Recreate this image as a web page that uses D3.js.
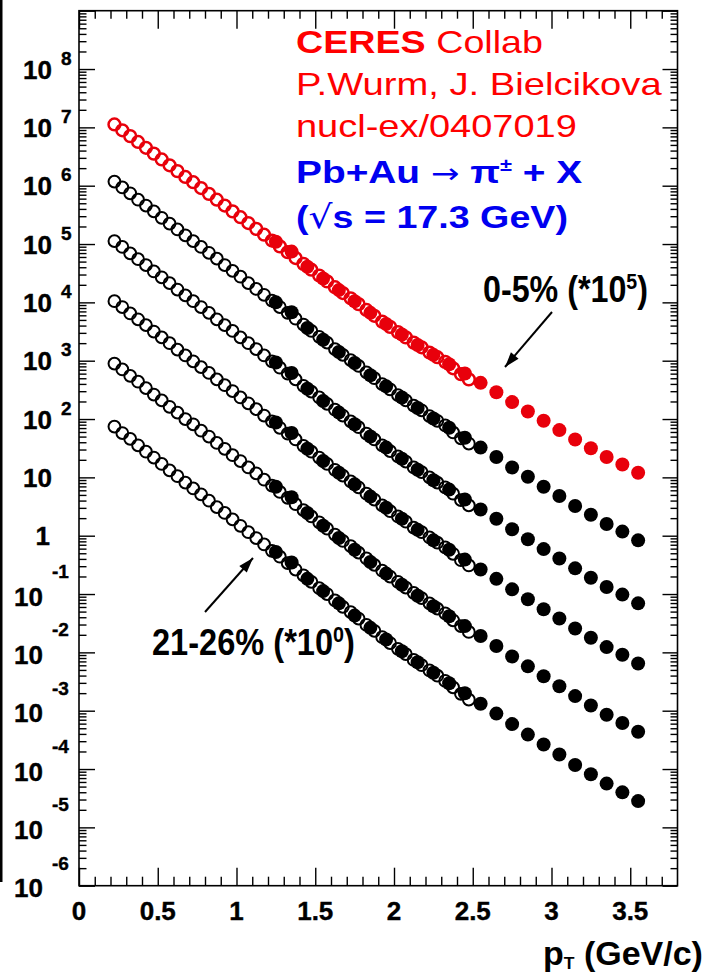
<!DOCTYPE html>
<html>
<head>
<meta charset="utf-8">
<script src="https://cdn.jsdelivr.net/npm/d3@7"></script>
<style>
  body { margin: 0; background: #fff; }
  svg { display: block; }
  text { font-family: "Liberation Sans", Arial, Helvetica, sans-serif; }
</style>
</head>
<body>
<svg id="chart" width="704" height="975"></svg>
<script>
// pT grid (GeV/c) of the two measurements
const openPt = [0.225,0.275,0.325,0.375,0.425,0.475,0.525,0.575,0.625,0.675,
  0.725,0.775,0.825,0.875,0.925,0.975,1.025,1.075,1.125,1.175,
  1.225,1.275,1.325,1.375,1.425,1.475,1.525,1.575,1.625,1.675,
  1.725,1.775,1.825,1.875,1.925,1.975,2.025,2.075,2.125,2.175,
  2.225,2.275,2.325,2.375,2.425,2.475];
const filledPt = [1.25,1.35,1.45,1.55,1.65,1.75,1.85,1.95,2.05,2.15,
  2.25,2.35,2.45,2.55,2.65,2.75,2.85,2.95,3.05,3.15,
  3.25,3.35,3.45,3.55];

// log10 of the scaled invariant yield, one array per centrality class
// (scale factors 10^5 ... 10^0 from top to bottom)
const openS0 = [7.05,6.95,6.85,6.75,6.65,6.55,6.45,6.35,6.25,6.15,
  6.06,5.96,5.86,5.76,5.66,5.56,5.46,5.36,5.26,5.16,
  5.06,4.96,4.86,4.76,4.66,4.56,4.46,4.36,4.26,4.16,
  4.07,3.97,3.87,3.77,3.67,3.58,3.49,3.40,3.31,3.23,
  3.14,3.06,2.98,2.87,2.77,2.68];
const openS1 = [6.07,5.97,5.87,5.76,5.66,5.56,5.45,5.35,5.25,5.15,
  5.05,4.95,4.85,4.75,4.64,4.54,4.44,4.33,4.23,4.13,
  4.03,3.92,3.82,3.72,3.62,3.51,3.41,3.31,3.20,3.10,
  3.01,2.91,2.80,2.70,2.60,2.51,2.41,2.32,2.23,2.15,
  2.05,1.97,1.89,1.77,1.67,1.58];
const openS2 = [5.05,4.95,4.84,4.74,4.64,4.53,4.43,4.33,4.22,4.12,
  4.02,3.92,3.82,3.71,3.61,3.51,3.40,3.30,3.20,3.09,
  2.99,2.88,2.78,2.68,2.57,2.47,2.37,2.26,2.16,2.06,
  1.96,1.86,1.75,1.65,1.55,1.45,1.36,1.27,1.17,1.09,
  1.00,0.91,0.83,0.72,0.61,0.52];
const openS3 = [4.02,3.92,3.81,3.71,3.61,3.50,3.40,3.30,3.19,3.09,
  2.99,2.89,2.79,2.68,2.58,2.48,2.37,2.27,2.17,2.06,
  1.96,1.85,1.75,1.65,1.54,1.44,1.34,1.23,1.13,1.03,
  0.93,0.83,0.72,0.62,0.52,0.42,0.33,0.24,0.14,0.06,
  -0.03,-0.12,-0.20,-0.31,-0.42,-0.51];
const openS4 = [2.95,2.85,2.74,2.64,2.53,2.42,2.32,2.21,2.11,2.00,
  1.91,1.80,1.70,1.59,1.49,1.38,1.28,1.17,1.07,0.96,
  0.86,0.75,0.65,0.54,0.44,0.33,0.23,0.12,0.02,-0.09,
  -0.18,-0.29,-0.39,-0.50,-0.60,-0.70,-0.79,-0.89,-0.98,-1.07,
  -1.16,-1.25,-1.33,-1.45,-1.55,-1.65];
const openS5 = [1.87,1.76,1.66,1.55,1.44,1.34,1.23,1.12,1.02,0.91,
  0.81,0.71,0.60,0.49,0.39,0.28,0.17,0.06,-0.04,-0.15,
  -0.26,-0.36,-0.47,-0.58,-0.68,-0.79,-0.90,-1.00,-1.11,-1.22,
  -1.31,-1.42,-1.53,-1.63,-1.74,-1.84,-1.94,-2.03,-2.13,-2.22,
  -2.31,-2.40,-2.49,-2.60,-2.71,-2.81];

const filledS0 = [5.04,4.87,4.61,4.41,4.21,4.02,3.82,3.63,3.45,3.27,
  3.10,2.94,2.78,2.62,2.46,2.29,2.13,1.97,1.81,1.65,1.50,1.35,1.22,1.08];
const filledS1 = [4.00,3.83,3.56,3.36,3.15,2.96,2.75,2.56,2.37,2.19,
  2.01,1.85,1.68,1.51,1.35,1.17,1.01,0.84,0.68,0.51,0.36,0.20,0.07,-0.08];
const filledS2 = [2.97,2.79,2.52,2.31,2.11,1.91,1.70,1.51,1.32,1.13,
  0.95,0.79,0.62,0.45,0.29,0.11,-0.06,-0.23,-0.39,-0.56,-0.72,-0.88,-1.01,-1.16];
const filledS3 = [1.94,1.76,1.49,1.28,1.08,0.88,0.67,0.48,0.29,0.10,
  -0.08,-0.24,-0.41,-0.58,-0.74,-0.92,-1.09,-1.26,-1.42,-1.59,-1.75,-1.91,-2.04,-2.19];
const filledS4 = [0.84,0.66,0.39,0.17,-0.04,-0.24,-0.45,-0.65,-0.84,-1.03,
  -1.21,-1.38,-1.55,-1.72,-1.89,-2.07,-2.24,-2.41,-2.58,-2.75,-2.91,-3.07,-3.21,-3.36];
const filledS5 = [-0.28,-0.46,-0.74,-0.95,-1.16,-1.37,-1.58,-1.78,-1.98,-2.17,
  -2.35,-2.53,-2.70,-2.88,-3.05,-3.23,-3.41,-3.58,-3.75,-3.93,-4.09,-4.25,-4.40,-4.55];

const seriesColors = ["#e8000b", "#000", "#000", "#000", "#000", "#000"];

// axis ticks and labels
const xMajor = [0, 0.5, 1, 1.5, 2, 2.5, 3, 3.5];
const xTickLabels = ["0", "0.5", "1", "1.5", "2", "2.5", "3", "3.5"];
const yDecades = [-6,-5,-4,-3,-2,-1,0,1,2,3,4,5,6,7,8];

const svg = d3.select("#chart");
const L = 79, R = 677.5, T = 10.7, B = 885.7;

const x = d3.scaleLinear().domain([0, 3.8]).range([L, R]);
const y = d3.scaleLog().domain([1e-6, 1e9]).range([B, T]);

// cut-off vertical rule at the far left
svg.append("rect").attr("x", 0).attr("y", 0).attr("width", 2.5).attr("height", 882).attr("fill", "#000");

// ---- ticks (all pointing inward) ----
const xMinor = d3.range(0, 38).map(i => i / 10).filter(v => Math.abs(v * 2 - Math.round(v * 2)) > 1e-6);
const yMinor = [];
for (let e = -6; e < 9; e++) for (let m = 2; m <= 9; m++) yMinor.push(m * Math.pow(10, e));

function tickAxis(axisFn, scale, values, size, tx, ty) {
  const g = svg.append("g").attr("transform", `translate(${tx},${ty})`)
    .call(axisFn(scale).tickValues(values).tickSize(size).tickFormat(""));
  g.select(".domain").remove();
  g.selectAll("line").attr("stroke", "#000").attr("stroke-width", 1.4);
}
tickAxis(d3.axisBottom, x, xMajor, -18, 0, B);
tickAxis(d3.axisBottom, x, xMinor, -9, 0, B);
tickAxis(d3.axisTop, x, xMajor, -18, 0, T);
tickAxis(d3.axisTop, x, xMinor, -8, 0, T);
const yMajorVals = d3.range(-6, 10).map(e => Math.pow(10, e));
tickAxis(d3.axisLeft, y, yMajorVals, -16, L, 0);
tickAxis(d3.axisLeft, y, yMinor, -7.5, L, 0);
tickAxis(d3.axisRight, y, yMajorVals, -15, R, 0);
tickAxis(d3.axisRight, y, yMinor, -7, R, 0);

// frame
svg.append("rect").attr("x", L).attr("y", T).attr("width", R - L).attr("height", B - T)
  .attr("fill", "none").attr("stroke", "#000").attr("stroke-width", 1.6);

// ---- x tick labels ----
svg.append("g").selectAll("text").data(xMajor).join("text")
  .attr("x", d => x(d)).attr("y", B + 34.5)
  .attr("text-anchor", "middle").attr("font-weight", "bold").attr("font-size", 26)
  .attr("stroke", "#000").attr("stroke-width", 0.4)
  .text((d, i) => xTickLabels[i]);

// ---- y tick labels: 10^n ----
const yl = svg.append("g").attr("font-weight", "bold").attr("stroke", "#000").attr("stroke-width", 0.4);
yDecades.forEach(e => {
  const yy = y(Math.pow(10, e));
  if (e === 0) {
    yl.append("text").attr("x", 50).attr("y", yy + 9.5).attr("text-anchor", "end").attr("font-size", 26).text("1");
  } else if (e === 1) {
    yl.append("text").attr("x", 52).attr("y", yy + 9.5).attr("text-anchor", "end").attr("font-size", 26).text("10");
  } else if (e > 1) {
    yl.append("text").attr("x", 52).attr("y", yy + 9.5).attr("text-anchor", "end").attr("font-size", 26).text("10");
    yl.append("text").attr("x", 61).attr("y", yy - 4.5).attr("font-size", 19).text(e);
  } else {
    yl.append("text").attr("x", 43).attr("y", yy + 11.5).attr("text-anchor", "end").attr("font-size", 26).text("10");
    yl.append("text").attr("x", 52).attr("y", yy - 16).attr("font-size", 19).text(e);
  }
});

// ---- data points ----
const series = [
  { open: openS0, filled: filledS0 },
  { open: openS1, filled: filledS1 },
  { open: openS2, filled: filledS2 },
  { open: openS3, filled: filledS3 },
  { open: openS4, filled: filledS4 },
  { open: openS5, filled: filledS5 }
];
const plot = svg.append("g");
series.forEach((s, k) => {
  const col = seriesColors[k];
  plot.append("g").selectAll("circle").data(s.open).join("circle")
    .attr("cx", (d, i) => x(openPt[i])).attr("cy", d => y(Math.pow(10, d)))
    .attr("r", 5.9).attr("fill", "none").attr("stroke", col)
    .attr("stroke-width", k === 0 ? 2.5 : 2);
});
series.forEach((s, k) => {
  const col = seriesColors[k];
  plot.append("g").selectAll("circle").data(s.filled).join("circle")
    .attr("cx", (d, i) => x(filledPt[i])).attr("cy", d => y(Math.pow(10, d)))
    .attr("r", 7).attr("fill", col);
});

// ---- text helper: stretch a text block to a given width ----
function fitted(x0, baseline, width, sy, build) {
  const g = svg.append("g");
  const t = g.append("text");
  build(t);
  const bw = t.node().getBBox().width;
  g.attr("transform", `translate(${x0},${baseline}) scale(${width / bw},${sy})`);
  return g;
}

// collaboration / reaction block
fitted(296, 53, 247, 1, t => {
  t.attr("font-size", 32).attr("fill", "#f00");
  t.append("tspan").attr("font-weight", "bold").text("CERES");
  t.append("tspan").text(" Collab");
});
fitted(296, 95, 366, 1, t => {
  t.attr("font-size", 32).attr("fill", "#f00").text("P.Wurm, J. Bielcikova");
});
fitted(296, 137, 281, 1, t => {
  t.attr("font-size", 32).attr("fill", "#f00").text("nucl-ex/0407019");
});
fitted(296, 183, 287, 1, t => {
  t.attr("font-size", 32).attr("fill", "#0000f0").attr("font-weight", "bold");
  t.append("tspan").text("Pb+Au ");
  t.append("tspan").attr("font-weight", "normal").attr("font-family", "DejaVu Sans").attr("font-size", 28).text("\u2192");
  t.append("tspan").text(" \u03c0");
  t.append("tspan").attr("font-size", 18).attr("dy", -12).text("\u00b1");
  t.append("tspan").attr("dy", 12).text(" + X");
});
fitted(296, 228, 272, 1, t => {
  t.attr("font-size", 32).attr("fill", "#0000f0").attr("font-weight", "bold");
  t.append("tspan").text("(");
  t.append("tspan").attr("font-weight", "normal").attr("font-family", "DejaVu Sans").text("\u221a");
  t.append("tspan").text("s = 17.3 GeV)");
});

// centrality annotations
function centralityLabel(x0, baseline, width, pct, expo) {
  fitted(x0, baseline, width, 1.1, t => {
    t.attr("font-size", 33).attr("font-weight", "bold").attr("fill", "#000");
    t.append("tspan").text(pct + " (*10");
    t.append("tspan").attr("font-size", 20).attr("dy", -12).text(expo);
    t.append("tspan").attr("dy", 12).text(")");
  });
}
centralityLabel(483, 302, 165, "0-5%", "5");
centralityLabel(152, 655, 203, "21-26%", "0");

function arrow(x1, y1, x2, y2) {
  svg.append("line").attr("x1", x1).attr("y1", y1).attr("x2", x2).attr("y2", y2)
    .attr("stroke", "#000").attr("stroke-width", 2);
  const a = Math.atan2(y2 - y1, x2 - x1), len = 15, hw = 5;
  const bx = x2 - len * Math.cos(a), by = y2 - len * Math.sin(a);
  const px = -Math.sin(a) * hw, py = Math.cos(a) * hw;
  svg.append("path")
    .attr("d", `M${x2},${y2}L${bx + px},${by + py}L${bx - px},${by - py}Z`)
    .attr("fill", "#000");
}
arrow(552, 312, 505, 367);
arrow(205, 612, 253, 558);

// x-axis title
fitted(543, 965, 160, 1.05, t => {
  t.attr("font-size", 31).attr("font-weight", "bold");
  t.append("tspan").text("p");
  t.append("tspan").attr("font-size", 16).attr("dy", 4).text("T");
  t.append("tspan").attr("dy", -4).text(" (GeV/c)");
});
</script>
</body>
</html>
